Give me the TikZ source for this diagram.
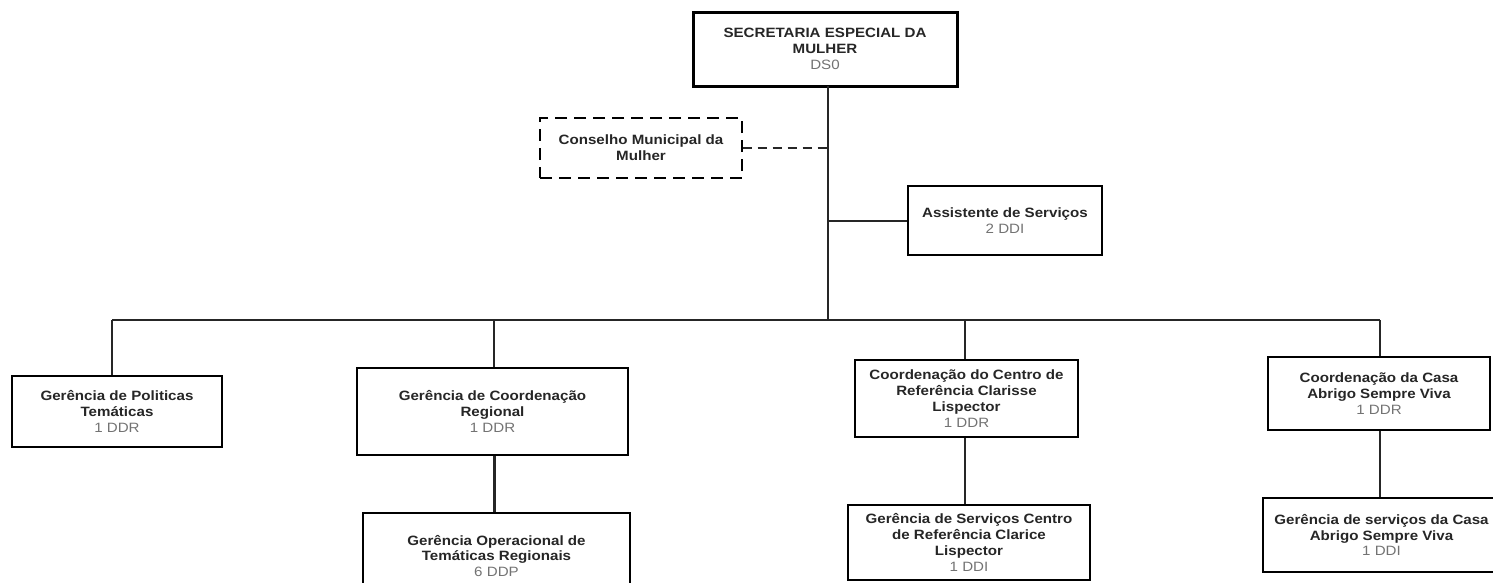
\documentclass[tikz,border=0pt]{standalone}
\usepackage{fontspec}
\setmainfont{Liberation Sans}[FakeStretch=1.12]
\begin{document}
\begin{tikzpicture}[x=1pt,y=-1pt,
  orgbox/.style={draw, line width=1.3pt, align=center, inner sep=0pt,
    font=\bfseries\fontsize{13.5}{15.8}\selectfont, text=black!85},
  link/.style={line width=1.3pt, black!85}]
\newcommand\dcode[1]{{\mdseries\color{black!55}#1}}
\useasboundingbox (0,0) rectangle (1493,582);
\clip (0,0) rectangle (1493,582);
\fill[white] (0,0) rectangle (1493,582);

\node[orgbox, line width=3pt, minimum width=264pt, minimum height=74pt] (sec) at (825,49)
  {SECRETARIA ESPECIAL DA\\MULHER\\\dcode{DS0}};
\node[orgbox, dash pattern=on 12pt off 7pt, minimum width=202pt, minimum height=60pt] (cons) at (641,148)
  {Conselho Municipal da\\Mulher};
\node[orgbox, minimum width=194pt, minimum height=69pt] (asst) at (1005,220.5)
  {Assistente de Serviços\\\dcode{2 DDI}};
\node[orgbox, minimum width=210pt, minimum height=71pt] (pol) at (117,411.5)
  {Gerência de Politicas\\Temáticas\\\dcode{1 DDR}};
\node[orgbox, minimum width=271pt, minimum height=87pt] (reg) at (492.5,411.5)
  {Gerência de Coordenação\\Regional\\\dcode{1 DDR}};
\node[orgbox, minimum width=267pt, minimum height=86pt] (op) at (496.5,556)
  {Gerência Operacional de\\Temáticas Regionais\\\dcode{6 DDP}};
\node[orgbox, minimum width=223pt, minimum height=77pt] (cen) at (966.5,398.5)
  {Coordenação do Centro de\\Referência Clarisse\\Lispector\\\dcode{1 DDR}};
\node[orgbox, minimum width=242pt, minimum height=75pt] (scen) at (969,542.5)
  {Gerência de Serviços Centro\\de Referência Clarice\\Lispector\\\dcode{1 DDI}};
\node[orgbox, minimum width=222pt, minimum height=73pt] (casa) at (1379,393.5)
  {Coordenação da Casa\\Abrigo Sempre Viva\\\dcode{1 DDR}};
\node[orgbox, minimum width=237pt, minimum height=74pt] (scasa) at (1381.5,535)
  {Gerência de serviços da Casa\\Abrigo Sempre Viva\\\dcode{1 DDI}};

\coordinate (top) at (828,86);
\coordinate (hub) at (828,320);
\coordinate (jcons) at (828,148);
\coordinate (jasst) at (828,221);
\coordinate (j1) at (112,320);
\coordinate (j2) at (494,320);
\coordinate (j3) at (965,320);
\coordinate (j4) at (1380,320);

\draw[link] (top) -- (hub);
\draw[link] (jasst) -- (asst.west |- jasst);
\draw[link, dash pattern=on 9pt off 6pt] (cons.east |- jcons) -- (jcons);
\draw[link] (j1) -- (j4);
\draw[link] (j1) -- (j1 |- pol.north);
\draw[link] (j2) -- (j2 |- reg.north);
\draw[link] (j3) -- (j3 |- cen.north);
\draw[link] (j4) -- (j4 |- casa.north);
\draw[link, line width=3pt] (j2 |- reg.south) -- (j2 |- op.north);
\draw[link] (j3 |- cen.south) -- (j3 |- scen.north);
\draw[link] (j4 |- casa.south) -- (j4 |- scasa.north);
\end{tikzpicture}
\end{document}
